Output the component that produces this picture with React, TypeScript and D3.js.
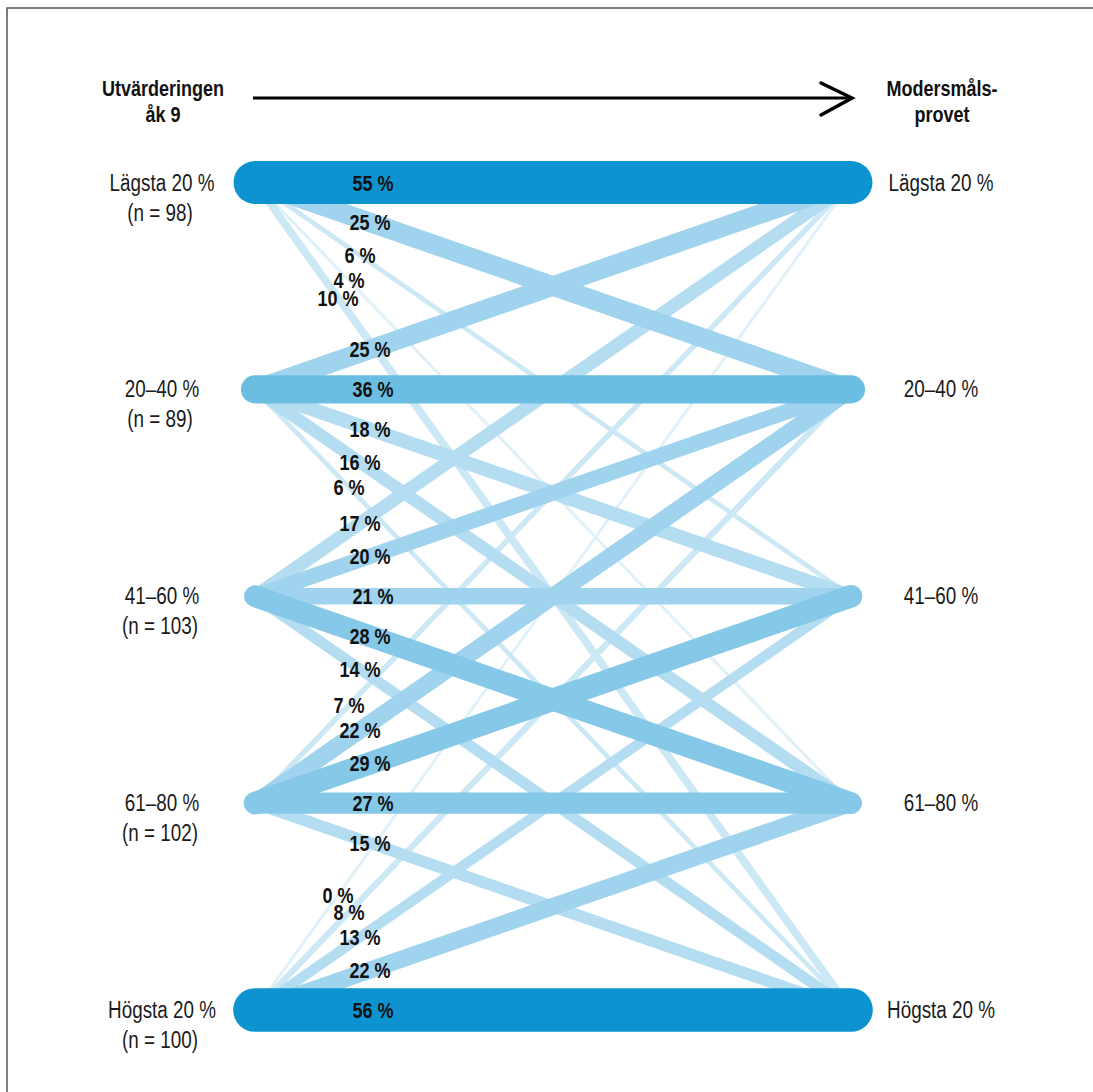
import React, { useEffect, useRef } from 'react';
import * as d3 from 'd3';

// rows (same grouping on both sides)
const groups = ['Lägsta 20 %', '20–40 %', '41–60 %', '61–80 %', 'Högsta 20 %'];
const groupN = [98, 89, 103, 102, 100];

// share of each left group ending up in each right group (%)
const fromLowest = [55, 25, 6, 4, 10];
const from20to40 = [25, 36, 18, 16, 6];
const from41to60 = [17, 20, 21, 28, 14];
const from61to80 = [7, 22, 29, 27, 15];
const fromHighest = [0, 8, 13, 22, 56];

const leftTitle = ['Utvärderingen', 'åk 9'];
const rightTitle = ['Modersmåls-', 'provet'];

const FONT = "'Liberation Sans', Arial, sans-serif";
const NARROW = 0.82; // no narrow font installed, squeeze horizontally

interface Link { from: number; to: number; pct: number; }

export default function App() {
  const svgRef = useRef<SVGSVGElement>(null);

  useEffect(() => {
    if (!svgRef.current) return;
    const svg = d3.select(svgRef.current);
    svg.selectAll('*').remove();

    const width = 1093;
    const height = 1092;
    const xLeft = 255;
    const xRight = 851;

    const y = d3.scalePoint<number>().domain(d3.range(groups.length)).range([182.5, 1010]);

    const rows = [fromLowest, from20to40, from41to60, from61to80, fromHighest];
    const links: Link[] = [];
    rows.forEach((r, i) => r.forEach((pct, j) => links.push({ from: i, to: j, pct })));

    const strokeW = d3.scaleLinear().domain([0, 56]).range([0, 43.7]);
    const color = d3.scaleThreshold<number, string>()
      .domain([5, 12, 20, 26, 31, 50])
      .range(['#e1f1f9', '#cce8f5', '#b5ddf1', '#a0d3ed', '#86c8e8', '#6bbde2', '#0e93d1']);

    const place = (x: number, yy: number) => `translate(${x},${yy}) scale(${NARROW},1)`;

    // frame
    svg.append('path')
      .attr('d', `M7,${height + 10}V8H${width + 10}`)
      .attr('fill', 'none')
      .attr('stroke', '#555')
      .attr('stroke-width', 1.5);

    // arrow
    svg.append('line')
      .attr('x1', 253).attr('x2', 851).attr('y1', 98).attr('y2', 98)
      .attr('stroke', '#000').attr('stroke-width', 3);
    svg.append('path')
      .attr('d', 'M821,83L852,98L821,115')
      .attr('fill', 'none').attr('stroke', '#000').attr('stroke-width', 3.5)
      .attr('stroke-linecap', 'round').attr('stroke-linejoin', 'miter');

    // links, thin first
    const sorted = links.slice().sort((a, b) => a.pct - b.pct);
    svg.append('g')
      .selectAll('line')
      .data(sorted)
      .join('line')
      .attr('x1', xLeft)
      .attr('y1', d => y(d.from)!)
      .attr('x2', xRight)
      .attr('y2', d => y(d.to)!)
      .attr('stroke', d => color(d.pct))
      .attr('stroke-width', d => Math.max(3, strokeW(d.pct)))
      .attr('stroke-linecap', 'round');

    // percentage labels along each line
    const labelShift = [0, 3, 13, 24, 35];
    const labelX = (d: Link) => xLeft + 118 - labelShift[Math.abs(d.to - d.from)];
    svg.append('g')
      .selectAll('text')
      .data(links)
      .join('text')
      .attr('transform', d => {
        const lx = labelX(d);
        const t = (lx - xLeft) / (xRight - xLeft);
        return place(lx, y(d.from)! + t * (y(d.to)! - y(d.from)!) + 8);
      })
      .attr('text-anchor', 'middle')
      .style('font-family', FONT)
      .style('font-weight', 'bold')
      .style('font-size', '22px')
      .attr('fill', '#111')
      .text(d => `${d.pct} %`);

    // left group labels
    const left = svg.append('g')
      .style('font-family', FONT)
      .style('font-size', '23px')
      .attr('fill', '#1a1a1a')
      .attr('text-anchor', 'middle');
    groups.forEach((g, i) => {
      left.append('text').attr('transform', place(162, y(i)! + 8)).text(g);
      left.append('text').attr('transform', place(160, y(i)! + 38)).text(`(n = ${groupN[i]})`);
    });

    // right group labels
    svg.append('g')
      .style('font-family', FONT)
      .style('font-size', '23px')
      .attr('fill', '#1a1a1a')
      .attr('text-anchor', 'middle')
      .selectAll('text')
      .data(groups)
      .join('text')
      .attr('transform', (_, i) => place(941, y(i)! + 8))
      .text(d => d);

    // titles
    const titles = svg.append('g')
      .style('font-family', FONT)
      .style('font-size', '22px')
      .style('font-weight', 'bold')
      .attr('fill', '#111')
      .attr('text-anchor', 'middle');
    leftTitle.forEach((t, i) => titles.append('text').attr('transform', place(163, 96 + i * 26)).text(t));
    rightTitle.forEach((t, i) => titles.append('text').attr('transform', place(942, 96 + i * 26)).text(t));
  }, []);

  return (
    <svg
      ref={svgRef}
      width={1093}
      height={1092}
      style={{ position: 'absolute', left: 0, top: 0, background: '#fff' }}
    />
  );
}
